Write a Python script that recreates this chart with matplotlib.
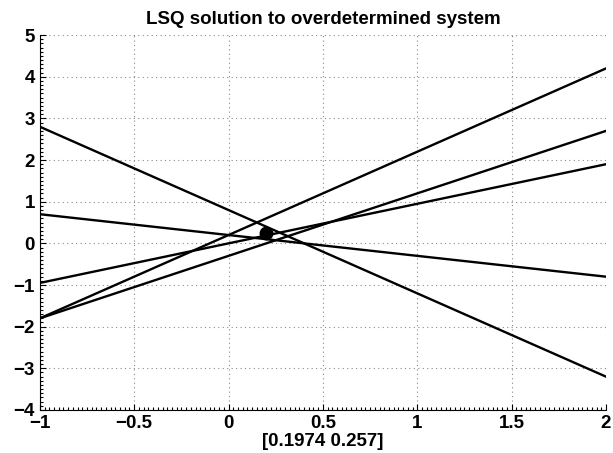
import matplotlib
matplotlib.use('Agg')
import matplotlib.pyplot as plt
from matplotlib.ticker import MultipleLocator, FuncFormatter
import numpy as np

# lines y = slope * x + intercept, drawn over x in [-1, 2]
x_span = [-1, 2]
slopes = [-2.0, -0.5, 0.95, 2.0, 1.5]
intercepts = [0.8, 0.2, 0.0, 0.2, -0.3]

# least squares solution
sol = [0.1974, 0.257]

plt.rcParams['font.family'] = ['Liberation Sans', 'DejaVu Sans']
plt.rcParams['font.weight'] = 'bold'
FS = 13.5

fig = plt.figure(figsize=(6.13, 4.53), dpi=100)
ax = fig.add_axes([0.065, 0.095, 0.9235, 0.8275])

xs = np.array(x_span)
for m, b in zip(slopes, intercepts):
    ax.plot(xs, m * xs + b, color='black', linewidth=1.7)

ax.plot(sol[0], sol[1], 'o', color='black', markersize=9)

ax.set_xlim(-1, 2)
ax.set_ylim(-4, 5)
ax.set_xticks([-1, -0.5, 0, 0.5, 1, 1.5, 2])
ax.set_yticks(range(-4, 6))
ax.xaxis.set_minor_locator(MultipleLocator(0.025))
ax.yaxis.set_minor_locator(MultipleLocator(0.1))

def fmt(v, pos):
    s = ('%g' % v)
    return s.replace('-', '\u2212')
ax.xaxis.set_major_formatter(FuncFormatter(fmt))
ax.yaxis.set_major_formatter(FuncFormatter(fmt))

ax.grid(True, which='major', linestyle=(0, (1, 3)), color='#888888', linewidth=0.8)
ax.tick_params(which='both', direction='in', labelsize=FS, width=0.8)
ax.tick_params(which='major', length=4)
ax.tick_params(which='minor', length=2)
ax.tick_params(axis='x', pad=3.5)
ax.tick_params(axis='y', pad=3.5)
ax.spines['top'].set_visible(False)
ax.spines['right'].set_visible(False)
for sp in ['left', 'bottom']:
    ax.spines[sp].set_linewidth(0.8)

ax.set_title('LSQ solution to overdetermined system', fontsize=FS, fontweight='bold', pad=8)
ax.set_xlabel('[%.4g %.4g]' % (sol[0], sol[1]), fontsize=FS, fontweight='bold')
ax.xaxis.set_label_coords(0.5, -0.062)

fig.savefig('out.png', dpi=100)
